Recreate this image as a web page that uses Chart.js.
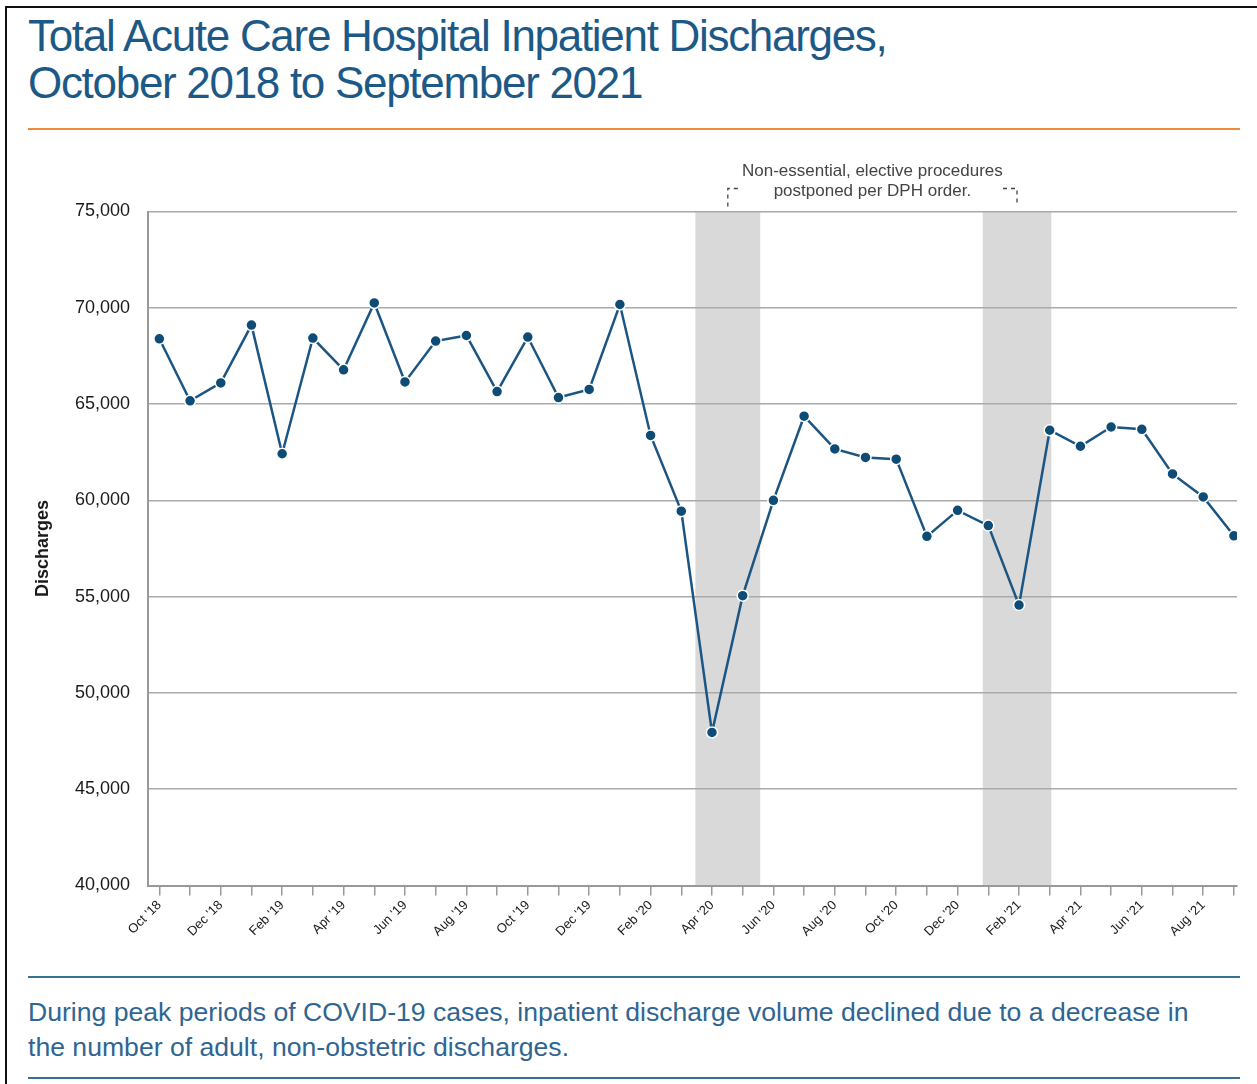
<!DOCTYPE html>
<html>
<head>
<meta charset="utf-8">
<script src="https://cdn.jsdelivr.net/npm/chart.js@4"></script>
<style>
  body { margin: 0; background: #fff; width: 1257px; height: 1084px; overflow: hidden; position: relative; font-family: 'Liberation Sans', Arial, sans-serif; }
  #frame { position: absolute; left: 5px; top: 6px; width: 1300px; height: 1200px; border-left: 2px solid #111; border-top: 2px solid #111; }
  #title { position: absolute; left: 28px; top: 12px; font-size: 44px; line-height: 47px; letter-spacing: -1.3px; color: #1d5986; white-space: nowrap; }
  .rule { position: absolute; left: 28px; width: 1212px; height: 2px; }
  #caption { position: absolute; left: 28px; top: 995px; font-size: 26.6px; line-height: 35px; color: #2f6592; white-space: nowrap; }
  #chartBox { position: absolute; left: 0; top: 150px; width: 1257px; height: 810px; }
</style>
</head>
<body>
<div id="frame"></div>
<div id="title">Total Acute Care Hospital Inpatient Discharges,<br>October 2018 to September 2021</div>
<div class="rule" style="top:128px;background:#ef8a3c;"></div>
<div id="chartBox"><canvas id="discharges"></canvas></div>
<div class="rule" style="top:976px;background:#3a6f96;"></div>
<div id="caption">During peak periods of COVID-19 cases, inpatient discharge volume declined due to a decrease in<br>the number of adult, non-obstetric discharges.</div>
<div class="rule" style="top:1077px;background:#3a6f96;"></div>

<script>
const months = [
    "Oct '18", "Nov '18", "Dec '18", "Jan '19", "Feb '19", "Mar '19", "Apr '19", "May '19", "Jun '19",
    "Jul '19", "Aug '19", "Sep '19", "Oct '19", "Nov '19", "Dec '19", "Jan '20", "Feb '20", "Mar '20",
    "Apr '20", "May '20", "Jun '20", "Jul '20", "Aug '20", "Sep '20", "Oct '20", "Nov '20", "Dec '20",
    "Jan '21", "Feb '21", "Mar '21", "Apr '21", "May '21", "Jun '21", "Jul '21", "Aug '21", "Sep '21"
];
const discharges = [
    68390, 65170, 66100, 69100, 62420, 68430, 66780, 70250, 66150,
    68270, 68560, 65650, 68480, 65340, 65760, 70170, 63370, 59440,
    47950, 55050, 60000, 64370, 62670, 62230, 62140, 58130, 59480,
    58690, 54560, 63640, 62810, 63810, 63690, 61370, 60180, 58160
];
// postponement periods, in month-index units
const shadeStart = [17.46, 26.82];
const shadeEnd = [19.57, 29.05];
const noteLines = ['Non-essential, elective procedures', 'postponed per DPH order.'];

const sans = "'Liberation Sans', Arial, sans-serif";

const shadePlugin = {
    id: 'shades',
    beforeDraw(chart) {
        const { ctx, chartArea, scales } = chart;
        ctx.save();
        ctx.fillStyle = '#d9d9d9';
        shadeStart.forEach((s, i) => {
            const x0 = scales.x.getPixelForValue(s);
            const x1 = scales.x.getPixelForValue(shadeEnd[i]);
            ctx.fillRect(x0, chartArea.top, x1 - x0, chartArea.bottom - chartArea.top);
        });
        ctx.restore();
    },
    afterDraw(chart) {
        const { ctx, chartArea, scales } = chart;
        const left = scales.x.getPixelForValue((shadeStart[0] + shadeEnd[0]) / 2);
        const right = scales.x.getPixelForValue((shadeStart[1] + shadeEnd[1]) / 2);
        const mid = (left + right) / 2;
        const top = chartArea.top - 23;
        ctx.save();
        ctx.strokeStyle = '#444';
        ctx.lineWidth = 1.3;
        ctx.setLineDash([4, 4]);
        ctx.beginPath();
        ctx.moveTo(left, chartArea.top - 5);
        ctx.lineTo(left, top);
        ctx.lineTo(left + 14, top);
        ctx.moveTo(right - 14, top);
        ctx.lineTo(right, top);
        ctx.lineTo(right, chartArea.top - 5);
        ctx.stroke();
        ctx.setLineDash([]);
        ctx.fillStyle = '#444';
        ctx.font = '17px ' + sans;
        ctx.textAlign = 'center';
        ctx.textBaseline = 'middle';
        ctx.fillText(noteLines[0], mid, chartArea.top - 40);
        ctx.fillText(noteLines[1], mid, chartArea.top - 20);
        ctx.restore();
    }
};

new Chart(document.getElementById('discharges'), {
    type: 'line',
    data: {
        datasets: [{
            label: 'Discharges',
            data: discharges.map((v, i) => ({ x: i, y: v })),
            borderColor: '#1b5583',
            borderWidth: 2.5,
            pointRadius: 5.5,
            pointBackgroundColor: '#0f4c75',
            pointBorderColor: '#fff',
            pointBorderWidth: 1.5,
            tension: 0
        }]
    },
    options: {
        responsive: true,
        maintainAspectRatio: false,
        animation: false,
        layout: { padding: { top: 61.5, right: 20, bottom: 9.5, left: 0 } },
        scales: {
            x: {
                type: 'linear',
                min: -0.37,
                max: 35.1,
                afterBuildTicks: scale => { scale.ticks = months.map((m, i) => ({ value: i })); },
                afterFit: scale => { scale.height = 65; },
                ticks: {
                    autoSkip: false,
                    minRotation: 45,
                    maxRotation: 45,
                    padding: 2,
                    color: '#1a1a1a',
                    font: { family: sans, size: 13 },
                    callback: (v, i) => (i % 2 === 0 ? months[i] : '')
                },
                grid: { drawOnChartArea: false, drawTicks: true, tickLength: 10, color: '#999', lineWidth: 1.5 },
                border: { color: '#999', width: 2 }
            },
            y: {
                min: 40000,
                max: 75000,
                afterFit: scale => { scale.width = 148; },
                ticks: {
                    stepSize: 5000,
                    padding: 18,
                    color: '#1a1a1a',
                    font: { family: sans, size: 18 },
                    callback: v => v.toLocaleString('en-US')
                },
                title: {
                    display: true,
                    text: 'Discharges',
                    color: '#1a1a1a',
                    font: { family: sans, size: 18, weight: 'bold' },
                    padding: { top: 32, bottom: 0 }
                },
                grid: { color: '#aaa', lineWidth: 1.5, drawTicks: false },
                border: { color: '#999', width: 2 }
            }
        },
        plugins: {
            legend: { display: false },
            tooltip: { enabled: false }
        }
    },
    plugins: [shadePlugin]
});
</script>
</body>
</html>
